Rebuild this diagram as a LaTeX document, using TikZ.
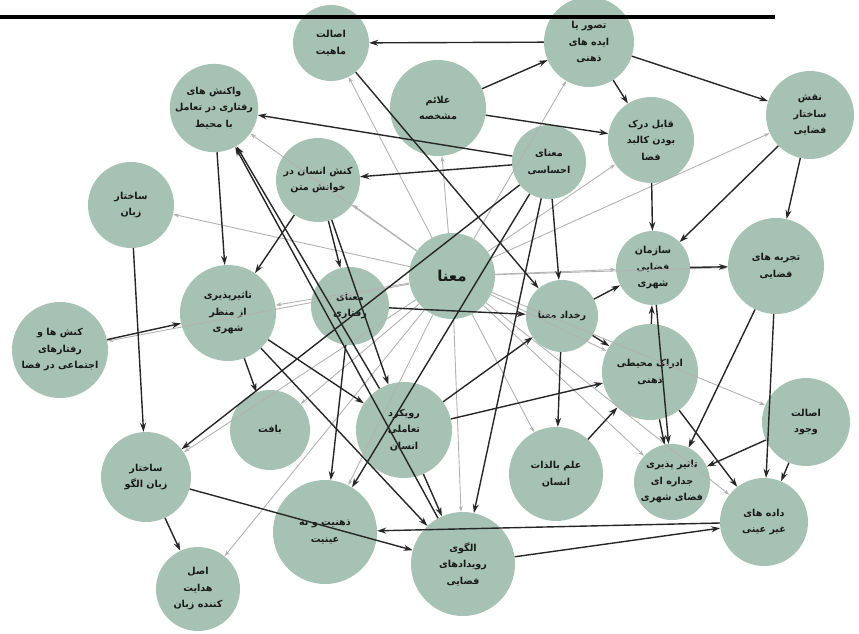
\documentclass[tikz,border=0pt]{standalone}
\usepackage{fontspec}
\newfontfamily\fa[Script=Arabic]{DejaVu Sans}
\TeXXeTstate=1
\usetikzlibrary{arrows.meta,positioning}
\definecolor{conceptgreen}{RGB}{166,194,181}
\newcommand{\fatext}[1]{\beginR #1\endR}
\tikzset{%
	concept/.style = {circle, fill=conceptgreen, draw=none, inner sep=0pt, align=center, text=black!90, font=\fa\bfseries\fontsize{9.6}{16.5}\selectfont}, % Concept
	strong/.style  = {draw=black!85, line width=1.4pt, -{Stealth[length=9pt,width=6pt]}}, % Main link
	weak/.style    = {draw=black!30, line width=0.9pt, -{Stealth[length=6pt,width=4pt]}}, % Link from meaning
}

\begin{document}
\begin{tikzpicture}[x=1pt,y=-1pt]
	\useasboundingbox (0,0) rectangle (859,634);
	\node [concept,minimum size=76pt] (am) at (331,43) {\fatext{اصالت}\\\fatext{ماهیت}};
	\node [concept,minimum size=90pt] (tv) at (589,42) {\fatext{تصور یا}\\\fatext{ایده های}\\\fatext{ذهنی}};
	\node [concept,minimum size=96pt] (alaem) at (438,108) {\fatext{علائم}\\\fatext{مشخصه}};
	\node [concept,minimum size=88pt] (vakonesh) at (214,108) {\fatext{واکنش های}\\\fatext{رفتاری در تعامل}\\\fatext{با محیط}};
	\node [concept,minimum size=86pt] (ghabel) at (651,140) {\fatext{قابل درک}\\\fatext{بودن کالبد}\\\fatext{فضا}};
	\node [concept,minimum size=88pt] (naghsh) at (810,115) {\fatext{نقش}\\\fatext{ساختار}\\\fatext{فضایی}};
	\node [concept,minimum size=84pt] (konesh) at (318,180) {\fatext{کنش انسان در}\\\fatext{خوانش متن}};
	\node [concept,minimum size=74pt] (ehsasi) at (549,162) {\fatext{معنای}\\\fatext{احساسی}};
	\node [concept,minimum size=86pt] (sakhtar) at (131,205) {\fatext{ساختار}\\\fatext{زبان}};
	\node [concept,minimum size=86pt,font=\fa\bfseries\fontsize{15}{18}\selectfont] (mana) at (452,276) {\fatext{معنا}};
	\node [concept,minimum size=74pt] (sazman) at (653,268) {\fatext{سازمان}\\\fatext{فضایی}\\\fatext{شهری}};
	\node [concept,minimum size=96pt] (tajrobe) at (776,266) {\fatext{تجربه های}\\\fatext{فضایی}};
	\node [concept,minimum size=96pt] (tasir) at (228,313) {\fatext{تاثیرپذیری}\\\fatext{از منظر}\\\fatext{شهری}};
	\node [concept,minimum size=78pt] (raftari) at (350,306) {\fatext{معنای}\\\fatext{رفتاری}};
	\node [concept,minimum size=72pt] (rokhdad) at (562,316) {\fatext{رخداد معنا}};
	\node [concept,minimum size=96pt] (koneshha) at (60,350) {\fatext{کنش ها و}\\\fatext{رفتارهای}\\\fatext{اجتماعی در فضا}};
	\node [concept,minimum size=96pt] (edrak) at (650,372) {\fatext{ادراک محیطی}\\\fatext{ذهنی}};
	\node [concept,minimum size=88pt] (vojud) at (806,422) {\fatext{اصالت}\\\fatext{وجود}};
	\node [concept,minimum size=96pt] (rooykard) at (404,430) {\fatext{رویکرد}\\\fatext{تعاملی}\\\fatext{انسان}};
	\node [concept,minimum size=80pt] (baft) at (270,430) {\fatext{بافت}};
	\node [concept,minimum size=94pt] (elm) at (556,474) {\fatext{علم بالذات}\\\fatext{انسان}};
	\node [concept,minimum size=76pt] (jedare) at (672,482) {\fatext{تاثیر پذیری}\\\fatext{جداره ای}\\\fatext{فضای شهری}};
	\node [concept,minimum size=90pt] (zabanolgoo) at (146,477) {\fatext{ساختار}\\\fatext{زبان الگو}};
	\node [concept,minimum size=104pt] (zehniat) at (325,532) {\fatext{ذهنیت و نه}\\\fatext{عینیت}};
	\node [concept,minimum size=104pt] (olgoo) at (463,564) {\fatext{الگوی}\\\fatext{رویدادهای}\\\fatext{فضایی}};
	\node [concept,minimum size=88pt] (dade) at (764,522) {\fatext{داده های}\\\fatext{غیر عینی}};
	\node [concept,minimum size=84pt] (asl) at (198,589) {\fatext{اصل}\\\fatext{هدایت}\\\fatext{کننده زبان}};

	% links from the central meaning
	\draw[weak] (mana) -- (am);
	\draw[weak] (mana) -- (tv);
	\draw[weak] (mana) -- (alaem);
	\draw[weak] (mana) -- (vakonesh);
	\draw[weak] (mana) -- (ghabel);
	\draw[weak] (mana) -- (naghsh);
	\draw[weak] (mana) -- (konesh);
	\draw[weak] (mana) -- (sakhtar);
	\draw[weak] (mana) -- (sazman);
	\draw[weak] (mana) -- (tajrobe);
	\draw[weak] (mana) -- (koneshha);
	\draw[weak] (mana) -- (tasir);
	\draw[weak] (mana) -- (zabanolgoo);
	\draw[weak] (mana) -- (asl);
	\draw[weak] (mana) -- (baft);
	\draw[weak] (mana) -- (zehniat);
	\draw[weak] (mana) -- (olgoo);
	\draw[weak] (mana) -- (elm);
	\draw[weak] (mana) -- (jedare);
	\draw[weak] (mana) -- (dade);
	\draw[weak] (mana) -- (vojud);
	\draw[weak] (mana) -- (edrak);

	% main links
	\draw[strong] (tv) -- (am);
	\draw[strong] (alaem) -- (tv);
	\draw[strong] (alaem) -- (ghabel);
	\draw[strong] (tv) -- (ghabel);
	\draw[strong] (tv) -- (naghsh);
	\draw[strong] (naghsh) -- (tajrobe);
	\draw[strong] (naghsh) -- (sazman);
	\draw[strong] (ghabel) -- (sazman);
	\draw[strong] (ehsasi) -- (vakonesh);
	\draw[strong] (ehsasi) -- (konesh);
	\draw[strong] (ehsasi) -- (rokhdad);
	\draw[strong] (ehsasi) -- (zabanolgoo);
	\draw[strong] (ehsasi) -- (zehniat);
	\draw[strong] (ehsasi) -- (olgoo);
	\draw[strong] (am) -- (rokhdad);
	\draw[strong] (konesh) -- (tasir);
	\draw[strong] (konesh) -- (raftari);
	\draw[strong] (konesh) -- (rooykard);
	\draw[strong] (vakonesh) -- (tasir);
	\draw[strong] (rooykard) -- (vakonesh);
	\draw[strong] (olgoo) -- (vakonesh);
	\draw[strong] (tasir) -- (baft);
	\draw[strong] (tasir) -- (rooykard);
	\draw[strong] (tasir) -- (olgoo);
	\draw[strong] (raftari) -- (rokhdad);
	\draw[strong] (raftari) -- (zehniat);
	\draw[strong] (rooykard) -- (rokhdad);
	\draw[strong] (rooykard) -- (edrak);
	\draw[strong] (rooykard) -- (olgoo);
	\draw[strong] (rokhdad) -- (sazman);
	\draw[strong] (rokhdad) -- (edrak);
	\draw[strong] (rokhdad) -- (elm);
	\draw[strong] (elm) -- (edrak);
	\draw[strong] (edrak) -- (sazman);
	\draw[strong] (edrak) -- (jedare);
	\draw[strong] (edrak) -- (dade);
	\draw[strong] (sazman) -- (tajrobe);
	\draw[strong] (sazman) -- (jedare);
	\draw[strong] (tajrobe) -- (jedare);
	\draw[strong] (tajrobe) -- (dade);
	\draw[strong] (vojud) -- (jedare);
	\draw[strong] (vojud) -- (dade);
	\draw[strong] (koneshha) -- (tasir);
	\draw[strong] (sakhtar) -- (zabanolgoo);
	\draw[strong] (zabanolgoo) -- (asl);
	\draw[strong] (zabanolgoo) -- (olgoo);
	\draw[strong] (dade) -- (zehniat);
	\draw[strong] (olgoo) -- (dade);

	% page rule
	\draw[line width=4pt] (0,17) -- (775,17);
\end{tikzpicture}
\end{document}
